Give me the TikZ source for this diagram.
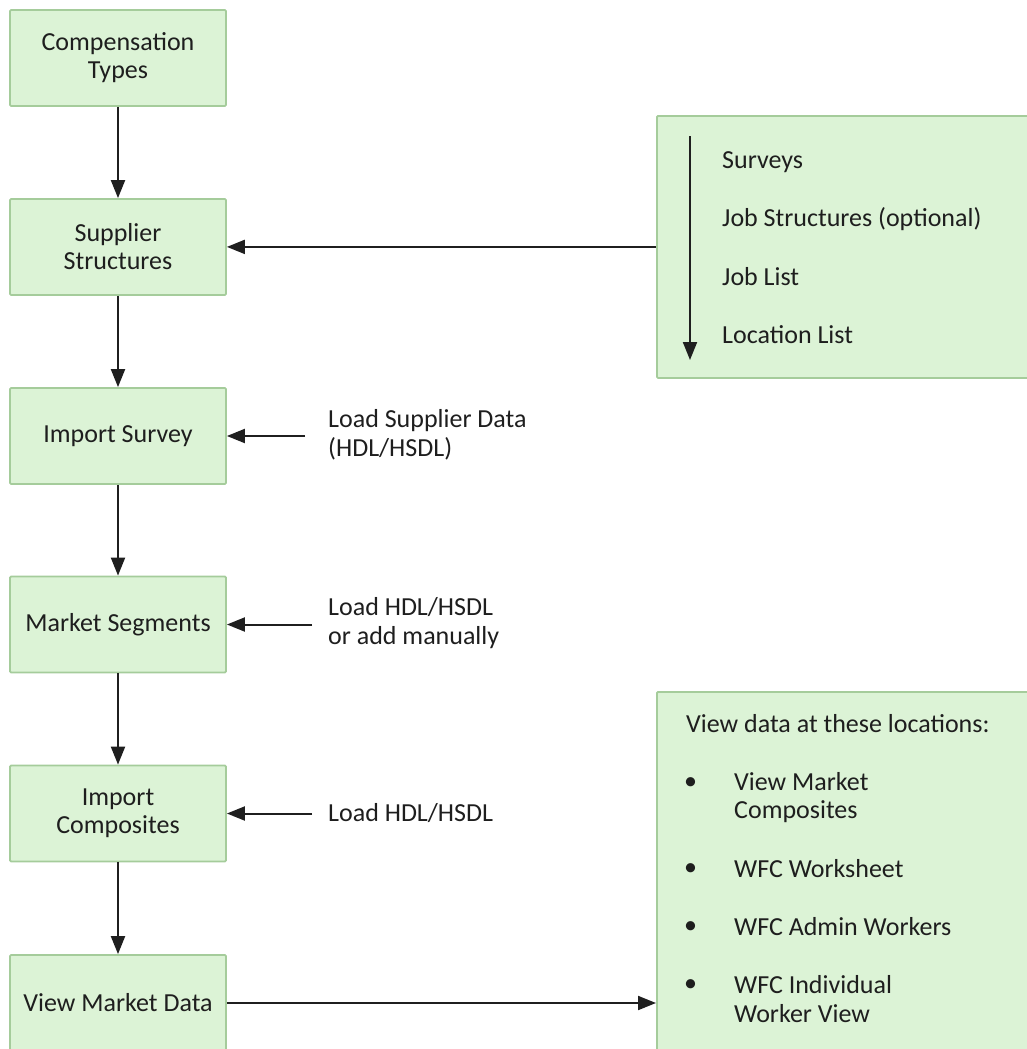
\documentclass[tikz,border=0pt]{standalone}
\usepackage{fontspec}
\setmainfont{Carlito}
\usetikzlibrary{arrows.meta}
\definecolor{boxfill}{RGB}{220,243,214}
\definecolor{boxline}{RGB}{165,204,155}
\definecolor{txt}{RGB}{30,30,30}
\begin{document}
\begin{tikzpicture}[x=1pt,y=-1pt,
  box/.style={draw=boxline, fill=boxfill, line width=1.8pt, rounded corners=1.2pt},
  stepnode/.style={box, minimum width=216pt, minimum height=96pt, align=center, inner sep=0pt,
    font=\fontsize{26}{28}\selectfont, text=txt},
  lbl/.style={anchor=west, align=left, inner sep=0pt, font=\fontsize{26}{28.5}\selectfont, text=txt},
  arr/.style={-{Triangle[length=18pt,width=14pt]}, line width=2pt, draw=black!88}]
\useasboundingbox (0,0) rectangle (1027,1049);
\clip (0,0) rectangle (1027,1049);

% left column
\node[stepnode] (b1) at (118,58) {Compensation\\Types};
\node[stepnode] (b2) at (118,247) {Supplier\\Structures};
\node[stepnode] (b3) at (118,436) {Import Survey};
\node[stepnode] (b4) at (118,624.5) {Market Segments};
\node[stepnode] (b5) at (118,813.5) {Import\\Composites};
\node[stepnode] (b6) at (118,1003) {View Market Data};

\draw[arr] (b1) -- (b2);
\draw[arr] (b2) -- (b3);
\draw[arr] (b3) -- (b4);
\draw[arr] (b4) -- (b5);
\draw[arr] (b5) -- (b6);

% top right box
\node[box, anchor=north west, minimum width=400pt, minimum height=262pt, inner sep=0pt] (r1) at (656,115) {};
\coordinate (ia) at (690,136);
\coordinate (ib) at (690,360);
\draw[arr] (ia) -- (ib);
\node[lbl] (s1) at (722,162) {Surveys};
\node[lbl] (s2) at (722,219) {Job Structures (optional)};
\node[lbl] (s3) at (722,277) {Job List};
\node[lbl] (s4) at (722,335) {Location List};
\draw[arr] (r1.west) -- (r1.west -| b2.east);

% side labels
\node[lbl] (l1) at (328,435) {Load Supplier Data\\(HDL/HSDL)};
\node[lbl] (l2) at (328,623) {Load HDL/HSDL\\or add manually};
\node[lbl] (l3) at (328,813) {Load HDL/HSDL};
\coordinate (l1s) at (305,436);
\coordinate (l2s) at (312,624.5);
\coordinate (l3s) at (312,813.5);
\draw[arr] (l1s) -- (l1s -| b3.east);
\draw[arr] (l2s) -- (l2s -| b4.east);
\draw[arr] (l3s) -- (l3s -| b5.east);

% bottom right box
\node[box, anchor=north west, minimum width=400pt, minimum height=420pt, inner sep=0pt] (r2) at (656,691) {};
\node[lbl] (v0) at (686,724) {View data at these locations:};
\node[lbl] (d1) at (684,784) {•};
\node[lbl] (d2) at (684,870) {•};
\node[lbl] (d3) at (684,928) {•};
\node[lbl] (d4) at (684,986) {•};
\node[lbl] (v1) at (734,797.5) {View Market\\Composites};
\node[lbl] (v2) at (734,869) {WFC Worksheet};
\node[lbl] (v3) at (734,927) {WFC Admin Workers};
\node[lbl] (v4) at (734,999) {WFC Individual\\Worker View};
\draw[arr] (b6.east) -- (b6.east -| r2.west);
\end{tikzpicture}
\end{document}
